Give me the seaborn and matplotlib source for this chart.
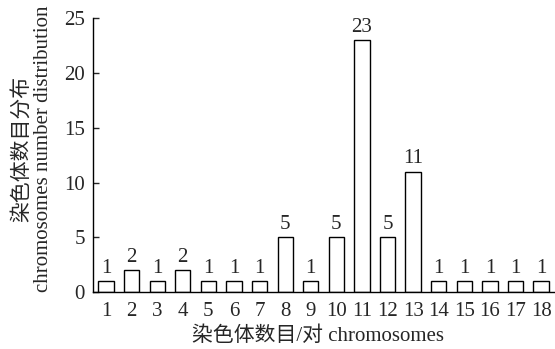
import matplotlib
matplotlib.use("Agg")
import matplotlib.pyplot as plt
import seaborn as sns
import pandas as pd

chromosomes = [str(i) for i in range(1, 19)]
counts = [1, 2, 1, 2, 1, 1, 1, 5, 1, 5, 23, 5, 11, 1, 1, 1, 1, 1]

sns.set_style("ticks")
plt.rcParams['font.family'] = ['Liberation Serif', 'Noto Sans CJK SC']

df = pd.DataFrame({"chrom": chromosomes, "count": counts})

fig = plt.figure(figsize=(5.55, 3.49), dpi=100)
ax = fig.add_axes([0.168, 0.163, 0.83, 0.785])
sns.barplot(data=df, x="chrom", y="count", color="white", edgecolor="black",
            linewidth=1.0, width=0.6, ax=ax, saturation=1)

for i, v in enumerate(counts):
    ax.text(i, v + 0.3, str(v), ha="center", va="bottom", fontsize=15)

ax.set_xlim(-0.5, 17.5)
ax.set_ylim(0, 25)
ax.set_yticks([0, 5, 10, 15, 20, 25])
ax.tick_params(axis="y", direction="in", length=4, labelsize=15, width=1, pad=6)
ax.tick_params(axis="x", length=0, labelsize=15, pad=7)
for s in ["top", "right"]:
    ax.spines[s].set_visible(False)
for s in ["left", "bottom"]:
    ax.spines[s].set_linewidth(1.0)
    ax.spines[s].set_color("black")

ax.set_xlabel("染色体数目/对 chromosomes", fontsize=15)
ax.set_ylabel("染色体数目分布\nchromosomes number distribution", fontsize=15,
              linespacing=1.05)
ax.xaxis.set_label_coords(0.487, -0.125)
ax.yaxis.set_label_coords(-0.087, 0.522)

fig.savefig("out.png", dpi=100)
